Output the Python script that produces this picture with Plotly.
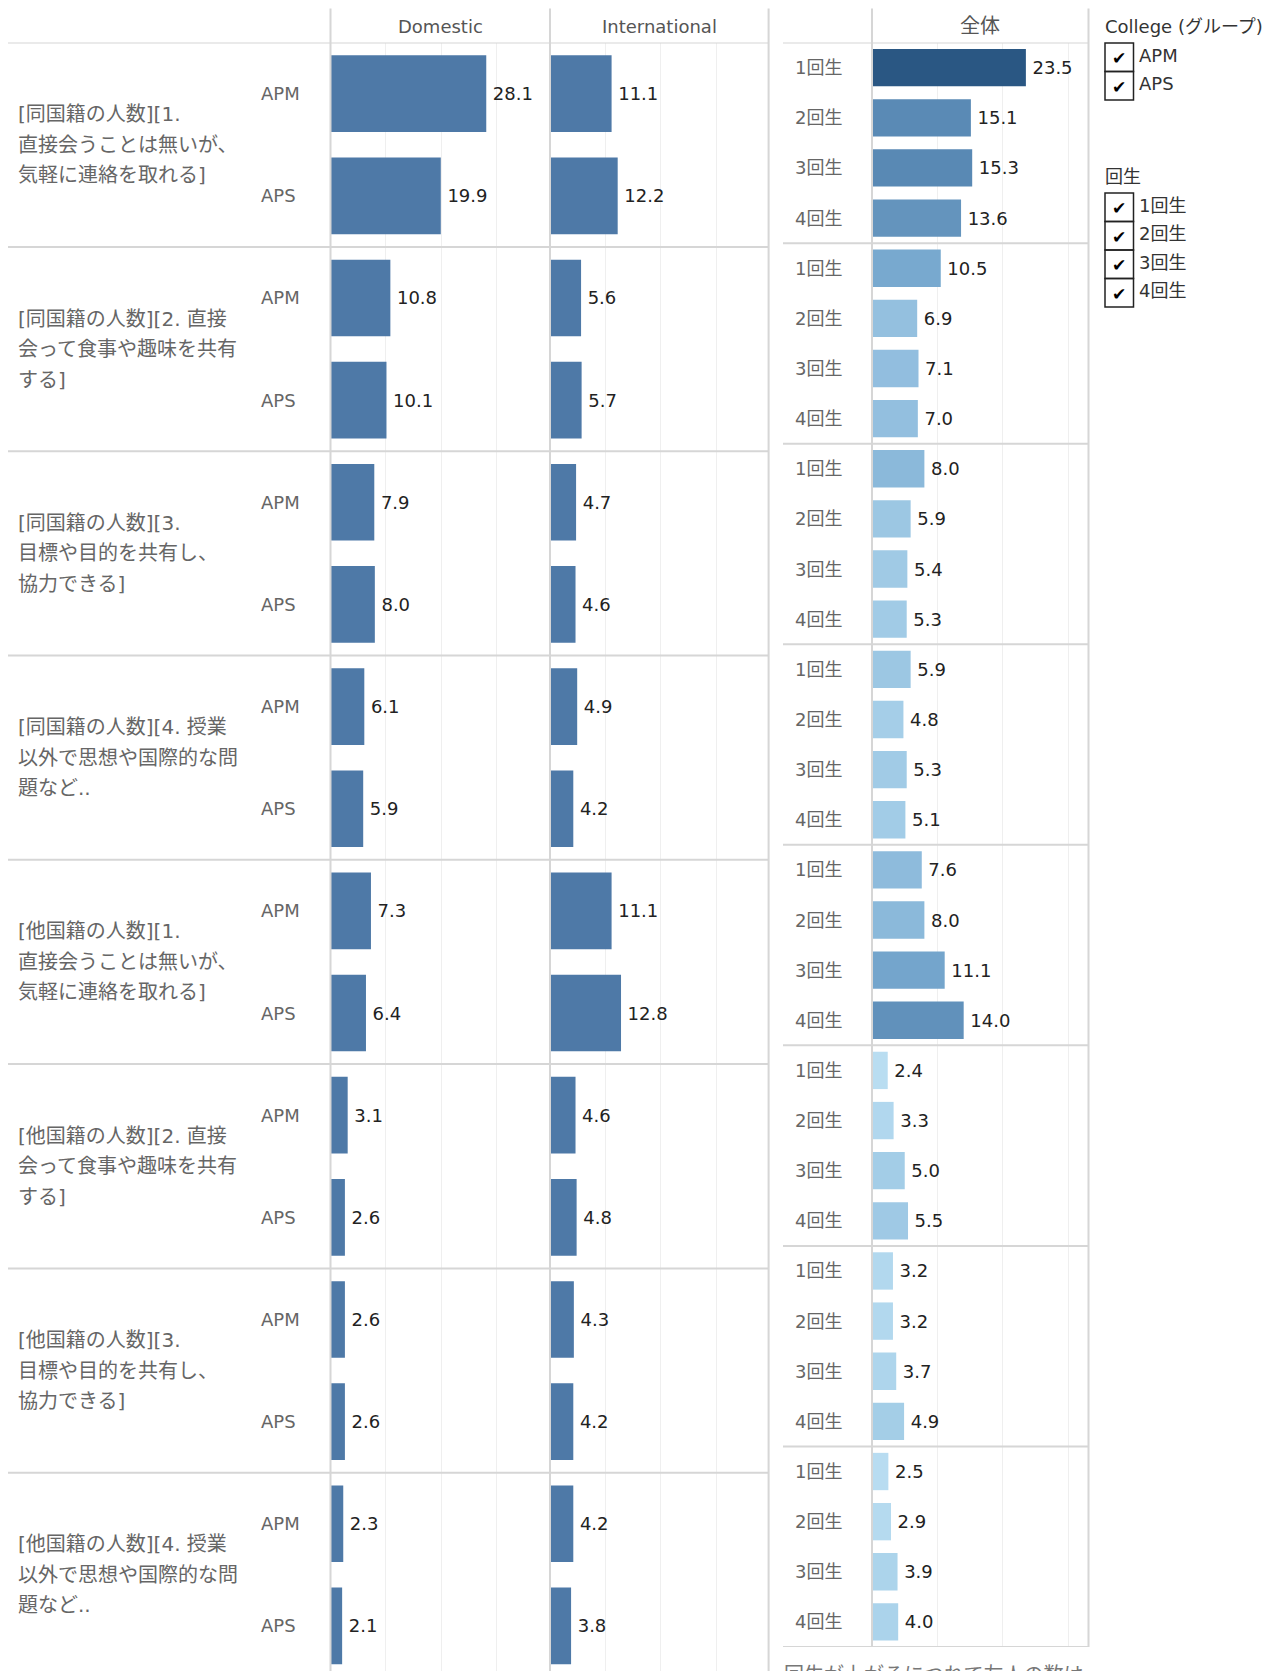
import plotly.graph_objects as go

W, H = 1275, 1671
OFF = 8  # page body margin around the plot div

colleges = ["APM", "APS"]
years = ["1回生", "2回生", "3回生", "4回生"]
headers = ["Domestic", "International", "全体"]
legend_titles = ["College (グループ)", "回生"]
group_lines = [
    ["[同国籍の人数][1.", "直接会うことは無いが、", "気軽に連絡を取れる]"],
    ["[同国籍の人数][2. 直接", "会って食事や趣味を共有", "する]"],
    ["[同国籍の人数][3.", "目標や目的を共有し、", "協力できる]"],
    ["[同国籍の人数][4. 授業", "以外で思想や国際的な問", "題など.."],
    ["[他国籍の人数][1.", "直接会うことは無いが、", "気軽に連絡を取れる]"],
    ["[他国籍の人数][2. 直接", "会って食事や趣味を共有", "する]"],
    ["[他国籍の人数][3.", "目標や目的を共有し、", "協力できる]"],
    ["[他国籍の人数][4. 授業", "以外で思想や国際的な問", "題など.."],
]
# APM, APS per group
domestic = [28.1, 19.9, 10.8, 10.1, 7.9, 8.0, 6.1, 5.9,
            7.3, 6.4, 3.1, 2.6, 2.6, 2.6, 2.3, 2.1]
international = [11.1, 12.2, 5.6, 5.7, 4.7, 4.6, 4.9, 4.2,
                 11.1, 12.8, 4.6, 4.8, 4.3, 4.2, 4.2, 3.8]
# 1-4回生 per group
overall = [23.5, 15.1, 15.3, 13.6, 10.5, 6.9, 7.1, 7.0,
           8.0, 5.9, 5.4, 5.3, 5.9, 4.8, 5.3, 5.1,
           7.6, 8.0, 11.1, 14.0, 2.4, 3.3, 5.0, 5.5,
           3.2, 3.2, 3.7, 4.9, 2.5, 2.9, 3.9, 4.0]
note = "回生が上がるにつれて友人の数は"

FONT = "DejaVu Sans, Noto Sans CJK JP, sans-serif"
BAR = "#4e79a7"
LINE = "#d6d6d6"
GRID = "#efefef"
LABEL = "#666666"


def px(x):
    return (x - OFF) / W


def py(y):
    return 1 - (y - OFF) / H


left_cats = [f"{g}-{c}" for g in range(len(group_lines)) for c in colleges]
right_cats = [f"{g}-{y}" for g in range(len(group_lines)) for y in years]

fig = go.Figure()
for vals, xa in ((domestic, "x"), (international, "x2")):
    fig.add_trace(go.Bar(
        x=vals, y=left_cats, orientation="h", xaxis=xa, yaxis="y",
        marker=dict(color=BAR, line_width=0), width=0.75,
        text=[f"\u2009{v:.1f}" for v in vals], textposition="outside",
        constraintext="none", cliponaxis=False,
        textfont=dict(family=FONT, size=18, color="#222222")))

blues = [[0.0, "#b9ddf1"], [0.123, "#a3cde7"], [0.218, "#93bfdf"],
         [0.384, "#78a9cf"], [0.602, "#5a8ab5"], [1.0, "#2a5783"]]
fig.add_trace(go.Bar(
    x=overall, y=right_cats, orientation="h", xaxis="x3", yaxis="y2",
    marker=dict(color=overall, colorscale=blues, cmin=min(overall),
                cmax=max(overall), line_width=0, showscale=False),
    width=0.745,
    text=[f"\u2009{v:.1f}" for v in overall], textposition="outside",
    constraintext="none", cliponaxis=False,
    textfont=dict(family=FONT, size=18, color="#222222")))

xgrid = dict(dtick=10, tick0=0, showgrid=True, gridcolor=GRID, gridwidth=1,
             showticklabels=False, zeroline=False, showline=False, ticks="")
ycat = dict(type="category", categoryorder="array", showticklabels=False,
            showgrid=False, zeroline=False, ticks="")

shapes, annotations = [], []

# left panel: group separators + labels
for g, lines in enumerate(group_lines):
    shapes.append(dict(type="line", xref="paper", yref="y", x0=px(6), x1=px(769),
                       y0=2 * g - 0.5, y1=2 * g - 0.5,
                       line=dict(color=LINE, width=2)))
    for j, t in enumerate(lines):
        annotations.append(dict(
            text=t, xref="paper", yref="y", x=px(16), y=2 * g + 0.5,
            xanchor="left", yanchor="middle", showarrow=False,
            yshift=((len(lines) - 1) / 2 - j) * 30.5,
            font=dict(family=FONT, size=20, color=LABEL)))
for c in left_cats:
    annotations.append(dict(
        text=c.split("-")[1], xref="paper", yref="y", x=px(259), y=c,
        xanchor="left", yanchor="middle", showarrow=False,
        font=dict(family=FONT, size=18, color=LABEL)))

# right panel: group separators + labels
for g in range(len(group_lines) + 1):
    shapes.append(dict(type="line", xref="paper", yref="y2", x0=px(783), x1=px(1089),
                       y0=4 * g - 0.5, y1=4 * g - 0.5,
                       line=dict(color=LINE, width=2)))
for c in right_cats:
    annotations.append(dict(
        text=c.split("-")[1], xref="paper", yref="y2", x=px(793), y=c,
        xanchor="left", yanchor="middle", showarrow=False,
        font=dict(family=FONT, size=18, color=LABEL)))

# column borders and headers
for xa, bottom in (("x", H + OFF), ("x2", H + OFF), ("x3", 1647)):
    shapes.append(dict(type="line", xref=f"{xa} domain", yref="paper",
                       x0=0, x1=0, y0=py(bottom), y1=py(8.5),
                       line=dict(color=LINE, width=2)))
for xa, bottom in (("x2", H + OFF), ("x3", 1647)):
    shapes.append(dict(type="line", xref=f"{xa} domain", yref="paper",
                       x0=1, x1=1, y0=py(bottom), y1=py(8.5),
                       line=dict(color=LINE, width=2)))
for xa, t in zip(("x", "x2", "x3"), headers):
    annotations.append(dict(
        text=t, xref=f"{xa} domain", yref="paper", x=0.5, y=py(26),
        xanchor="center", yanchor="middle", showarrow=False,
        font=dict(family=FONT, size=20 if t == "全体" else 18, color="#555555")))

# filter legends with check boxes
box = 28.5
for title, items, top in ((legend_titles[0], colleges, 43), (legend_titles[1], years, 193)):
    annotations.append(dict(
        text=title, xref="paper", yref="paper", x=px(1103), y=py(top - 17),
        xanchor="left", yanchor="middle", showarrow=False,
        font=dict(family=FONT, size=18, color="#333333")))
    for i, it in enumerate(items):
        y0 = top + i * box
        shapes.append(dict(type="rect", xref="paper", yref="paper",
                           x0=px(1105), x1=px(1105 + box), y0=py(y0 + box), y1=py(y0),
                           line=dict(color="#222222", width=1.5)))
        annotations.append(dict(
            text="<b>✔</b>", xref="paper", yref="paper", x=px(1105 + box / 2),
            y=py(y0 + box / 2 + 1), xanchor="center", yanchor="middle", showarrow=False,
            font=dict(family="DejaVu Sans", size=17, color="#000000")))
        annotations.append(dict(
            text=it, xref="paper", yref="paper", x=px(1137), y=py(y0 + box / 2 - 2),
            xanchor="left", yanchor="middle", showarrow=False,
            font=dict(family=FONT, size=18, color="#333333")))

annotations.append(dict(
    text=note, xref="paper", yref="paper", x=px(782), y=py(1661),
    xanchor="left", yanchor="top", showarrow=False,
    font=dict(family=FONT, size=20, color="#777777")))

n_left = (H + OFF - 42.6) / 102.15  # categories visible before the bottom edge
fig.update_layout(
    width=W, height=H, margin=dict(l=0, r=0, t=0, b=0),
    paper_bgcolor="white", plot_bgcolor="white", showlegend=False,
    font=dict(family=FONT, size=18),
    xaxis=dict(domain=[px(330.5), px(550)], range=[0, 39.6], anchor="y", **xgrid),
    xaxis2=dict(domain=[px(550), px(768.6)], range=[0, 39.4], anchor="y", **xgrid),
    xaxis3=dict(domain=[px(872), px(1088.5)], range=[0, 33.06], anchor="y2", **xgrid),
    yaxis=dict(domain=[py(H + OFF), py(42.6)], categoryarray=left_cats,
               range=[n_left - 0.5, -0.5], anchor="x", **ycat),
    yaxis2=dict(domain=[py(1647), py(42.6)], categoryarray=right_cats,
                range=[31.5, -0.5], anchor="x3", **ycat),
    shapes=shapes, annotations=annotations,
)

fig.write_html("out.html")
